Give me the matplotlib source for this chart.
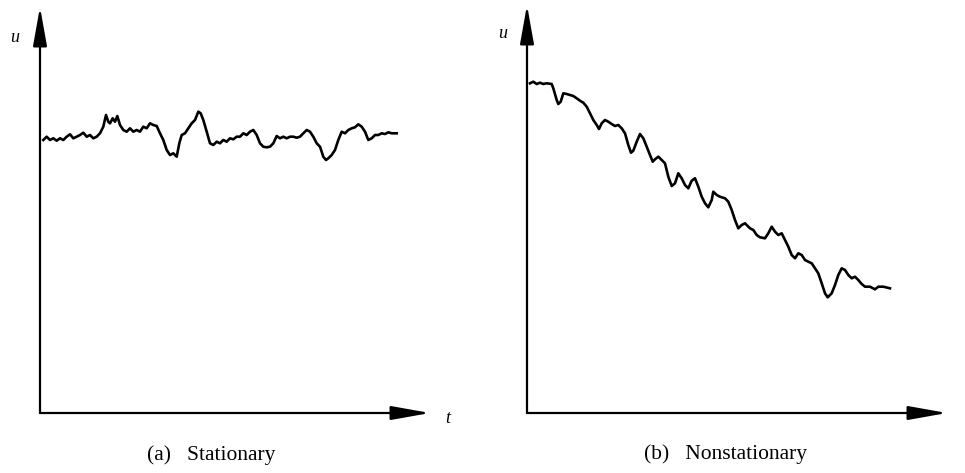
import matplotlib
matplotlib.use("Agg")
import matplotlib.pyplot as plt

# Stationary series (t, u) in panel units
t_a = [3.3, 6.7, 10, 13.3, 16.7, 20, 23.3, 26.7, 30, 33.3, 36.7, 40, 43.3, 46.7, 50, 53.3,
       56.7, 60, 63.3, 66, 68.3, 70, 72.7, 75, 77.3, 80, 83.3, 86.7, 90, 93.3, 96.7, 100,
       103.3, 106.7, 110, 113.3, 116.7, 120, 123.3, 126.7, 130, 133.3, 136.7, 139.3, 141.7,
       145, 148.3, 151.7, 155, 158.3, 160.7, 163.3, 166.7, 170, 173.3, 176.7, 180, 183.3,
       186.7, 190, 193.3, 196.7, 200, 203.3, 206.7, 210, 213.3, 216.7, 220, 223.3, 226.7,
       230, 233.3, 236.7, 240, 243.3, 246.7, 250, 253.3, 256.7, 260, 263.3, 266.7, 270,
       273.3, 276.7, 280, 283.3, 286, 288.3, 291.7, 295, 298.3, 301.7, 305, 308.3, 311.7,
       315, 318.3, 321.7, 325, 328.3, 331.7, 335, 338.3, 341.7, 345, 348.3, 351.7, 356.7]
u_a = [273, 276.3, 273, 274.7, 272.3, 274.7, 273, 276.3, 278.7, 274.7, 276.3, 278, 280.3,
       276.3, 278, 274.7, 276.3, 279.7, 286.3, 298, 291.3, 289.7, 294.7, 291.3, 297, 288,
       283, 281.3, 284.7, 281.3, 283, 281.3, 286.3, 284.7, 289.7, 288, 287, 279.7, 273, 263,
       258, 259.7, 256.3, 269.7, 278, 279.7, 284.7, 289.7, 293, 301.3, 299.7, 293, 281.3,
       269.7, 268, 271.3, 269.7, 273, 271.3, 274.7, 273.7, 276.3, 276.3, 279.7, 278, 281.3,
       283, 278, 269.7, 266.3, 265.7, 266.3, 269.7, 277, 274.7, 276.3, 274.7, 276.3, 276.3,
       275.3, 276.3, 279.7, 283, 281.3, 276.3, 269.7, 266.3, 256.3, 253, 254.7, 258, 263,
       273, 281.3, 279.7, 283, 284.7, 285.7, 288.7, 286.3, 281.3, 273, 274.7, 278, 278,
       279.7, 279, 280.7, 279.7, 279.7]

# Nonstationary series
t_b = [3, 6.3, 9.7, 13, 16.3, 19.7, 24.7, 26.3, 29.7, 31.3, 33.7, 36.3, 39.7, 43, 46.3,
       49.7, 53, 56.3, 59.7, 63, 66.3, 69.7, 72, 74.7, 78, 81.3, 84.7, 88, 91.3, 94.7, 98,
       101.3, 104, 106.3, 109.7, 113, 116.3, 119.7, 123, 125.7, 128, 131.3, 134.7, 138,
       141.3, 144.7, 148, 151.3, 154.7, 158, 161.3, 164.7, 168, 171.3, 174.7, 178, 181.3,
       184.7, 186.3, 189.7, 193, 198, 201.3, 204.7, 208, 211.3, 214.7, 218, 223, 226.3,
       229.7, 233, 238, 241.3, 244.7, 248, 251.3, 254.7, 258, 261.3, 264.7, 268, 271.3,
       274.7, 278, 281.3, 284.7, 288, 291.3, 294.7, 298, 300.7, 304.7, 308, 311.3, 314.7,
       318, 321.3, 324.7, 328, 331.3, 334.7, 338, 343, 348, 351.3, 356.3, 363]
u_b = [329.7, 331.3, 329, 330.3, 329, 329.7, 329, 324.7, 313, 309, 311.3, 319.7, 319, 318,
       317, 314.7, 312.3, 310.3, 306.3, 299.7, 293, 288, 284, 289.7, 293, 291.3, 289, 287,
       288, 284.7, 279.7, 268, 260.3, 262.3, 271.3, 279, 274.7, 266.3, 258, 251.3, 253.7,
       256.3, 253, 249.7, 236.3, 227, 229.7, 239.7, 234.7, 228, 224.7, 232.3, 234.7, 226.3,
       216.3, 209.7, 205.7, 213, 221.3, 218, 216.3, 214.7, 211.3, 203, 193, 184.7, 188,
       189.7, 184.7, 183, 178, 175.7, 174.7, 179.7, 186.3, 181.3, 178, 179.7, 173, 166.3,
       158, 154.7, 159.7, 158, 153, 151.3, 149.7, 144.7, 139.7, 129.7, 119.7, 115.7, 119.7,
       128, 138, 144.7, 143, 138, 134.7, 136.3, 133, 129, 126.3, 126.3, 123.7, 126.3, 126.3,
       124.7]

caption_a = "(a)   Stationary"
caption_b = "(b)   Nonstationary"

W, H = 965, 473
fig = plt.figure(figsize=(W / 100, H / 100), dpi=100)

def make_axes(x0, x1, y_top, y_bot, xmax, ymax):
    ax = fig.add_axes([x0 / W, 1 - y_bot / H, (x1 - x0) / W, (y_bot - y_top) / H])
    ax.set_xlim(0, xmax)
    ax.set_ylim(0, ymax)
    for s in ax.spines.values():
        s.set_visible(False)
    ax.set_xticks([])
    ax.set_yticks([])
    ax.patch.set_alpha(0)
    arrow = dict(arrowstyle="-|>,head_length=1.4,head_width=0.25", color="black",
                 lw=1.6, shrinkA=0, shrinkB=0, mutation_scale=17)
    ax.annotate("", xy=(0, 1), xytext=(0, 0), xycoords="axes fraction",
                textcoords="axes fraction", arrowprops=arrow, annotation_clip=False)
    ax.annotate("", xy=(1, 0), xytext=(0, 0), xycoords="axes fraction",
                textcoords="axes fraction", arrowprops=arrow, annotation_clip=False)
    return ax

ax1 = make_axes(40, 430, 7, 413, 390, 406)
ax1.plot(t_a, u_a, color="black", lw=1.9, solid_joinstyle="round")
ax2 = make_axes(527, 947, 5, 413, 420, 408)
ax2.plot(t_b, u_b, color="black", lw=1.9, solid_joinstyle="round")

serif = ["Liberation Serif", "DejaVu Serif"]
fig.text(15 / W, 1 - 38 / H, "u", fontsize=13, style="italic", family=serif,
         ha="center", va="center")
fig.text(503 / W, 1 - 33 / H, "u", fontsize=13, style="italic", family=serif,
         ha="center", va="center")
fig.text(448 / W, 1 - 418 / H, "t", fontsize=13, style="italic", family=serif,
         ha="center", va="center")
fig.text(211 / W, 1 - 455 / H, caption_a, fontsize=15.5, family=serif,
         ha="center", va="center")
fig.text(726 / W, 1 - 454 / H, caption_b, fontsize=15.5, family=serif,
         ha="center", va="center")

fig.savefig("out.png", dpi=100)
